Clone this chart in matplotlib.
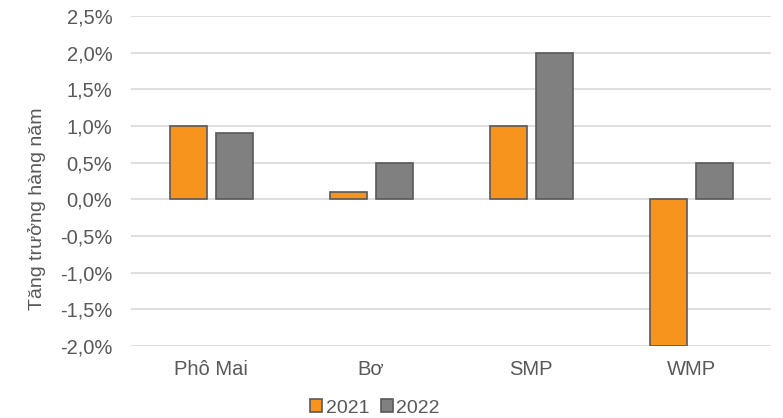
import matplotlib
matplotlib.use("Agg")
import matplotlib.pyplot as plt
import numpy as np
from matplotlib.ticker import FuncFormatter

categories = ["Phô Mai", "Bơ", "SMP", "WMP"]
series_names = ["2021", "2022"]
values_2021 = [1.0, 0.1, 1.0, -2.0]
values_2022 = [0.9, 0.5, 2.0, 0.5]
yticks = [-2.0, -1.5, -1.0, -0.5, 0.0, 0.5, 1.0, 1.5, 2.0, 2.5]

plt.rcParams['font.family'] = ['Liberation Sans', 'DejaVu Sans']
txt = '#595959'

fig = plt.figure(figsize=(7.83, 4.18), dpi=100)
ax = fig.add_axes([131/783, 1 - 346/418, 640/783, 330/418])

x = np.arange(len(categories))
w = 0.23
ax.bar(x - 0.14, values_2021, w, color='#F7941D', edgecolor='#595959', linewidth=1.2, label=series_names[0], zorder=3)
ax.bar(x + 0.145, values_2022, w, color='#808080', edgecolor='#595959', linewidth=1.2, label=series_names[1], zorder=3)

ax.set_xlim(-0.5, len(categories) - 0.5)
ax.set_ylim(-2.0, 2.5)
ax.set_yticks(yticks)
ax.yaxis.set_major_formatter(FuncFormatter(lambda v, p: f"{v:.1f}%".replace('.', ',')))
ax.set_xticks(x)
ax.set_xticklabels(categories)
ax.grid(axis='y', color='#d9d9d9', linewidth=1.2, zorder=0)
for s in ax.spines.values():
    s.set_visible(False)
ax.tick_params(length=0, labelsize=14.5, colors=txt)
ax.tick_params(axis='y', pad=13.5)
ax.tick_params(axis='x', pad=10)
ax.set_ylabel("Tăng trưởng hàng năm", fontsize=14, color=txt)
ax.yaxis.set_label_coords((46 - 131) / 640, (418 - 209 - 72) / 330)

leg = ax.legend(loc='center', bbox_to_anchor=((375 - 131) / 640, -(408 - 346) / 330), ncol=2, frameon=False,
                fontsize=14, handlelength=0.6, handleheight=0.6, handletextpad=0.2, columnspacing=0.6,
                labelcolor=txt, borderpad=0)
fig.savefig("out.png", dpi=100)
